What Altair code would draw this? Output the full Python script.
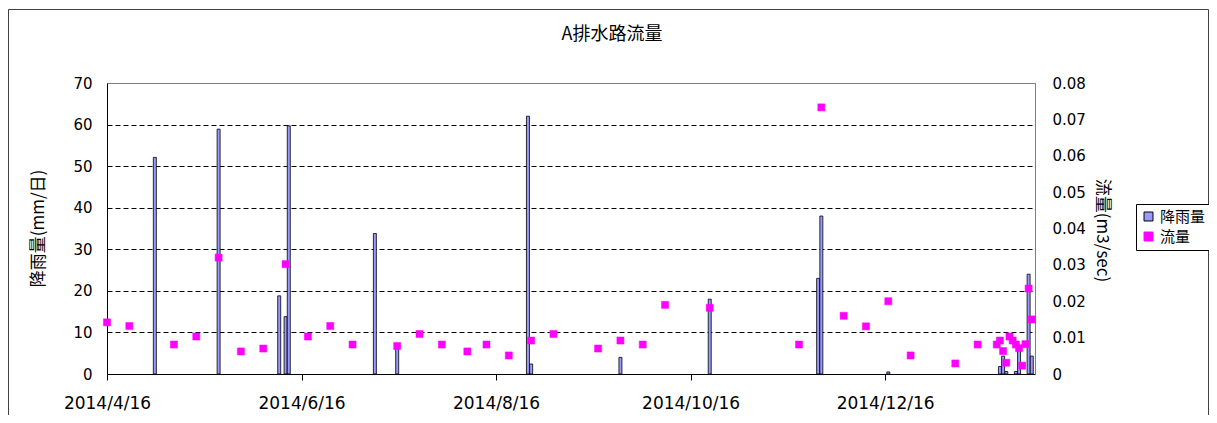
import altair as alt
import pandas as pd

# ---- data ----
rain_dates = ["2014-05-01", "2014-05-21", "2014-06-09", "2014-06-11", "2014-06-12",
              "2014-07-09", "2014-07-16", "2014-08-26", "2014-08-27", "2014-09-24",
              "2014-10-22", "2014-11-25", "2014-11-26", "2014-12-17", "2015-01-21",
              "2015-01-22", "2015-01-23", "2015-01-26", "2015-01-27", "2015-01-30",
              "2015-01-31"]
rain_mm = [52.1, 58.9, 18.8, 13.8, 59.7,
           33.8, 6.6, 62.0, 2.4, 4.0,
           18.0, 23.0, 38.0, 0.5, 1.8,
           4.3, 0.6, 0.6, 5.8, 24.0,
           4.3]

flow_dates = ["2014-04-16", "2014-04-23", "2014-05-07", "2014-05-14", "2014-05-21",
              "2014-05-28", "2014-06-04", "2014-06-11", "2014-06-18", "2014-06-25",
              "2014-07-02", "2014-07-16", "2014-07-23", "2014-07-30", "2014-08-07",
              "2014-08-13", "2014-08-20", "2014-08-27", "2014-09-03", "2014-09-17",
              "2014-09-24", "2014-10-01", "2014-10-08", "2014-10-22", "2014-11-19",
              "2014-11-26", "2014-12-03", "2014-12-10", "2014-12-17", "2014-12-24",
              "2015-01-07", "2015-01-14", "2015-01-20", "2015-01-21", "2015-01-22",
              "2015-01-23", "2015-01-24", "2015-01-25", "2015-01-26", "2015-01-27",
              "2015-01-28", "2015-01-29", "2015-01-30", "2015-01-31"]
flow_m3s = [0.0142, 0.0132, 0.0081, 0.0103, 0.0320,
            0.0062, 0.0070, 0.0302, 0.0103, 0.0132,
            0.0081, 0.0077, 0.0110, 0.0081, 0.0062,
            0.0081, 0.0051, 0.0092, 0.0110, 0.0070,
            0.0092, 0.0081, 0.0190, 0.0182, 0.0081,
            0.0733, 0.0160, 0.0131, 0.0200, 0.0051,
            0.0029, 0.0081, 0.0081, 0.0092, 0.0063,
            0.0031, 0.0103, 0.0092, 0.0081, 0.0071,
            0.0023, 0.0082, 0.0235, 0.0150]

series_names = ["降雨量", "流量"]
x_tick_dates = [(2014, 4, 16), (2014, 6, 16), (2014, 8, 16), (2014, 10, 16), (2014, 12, 16)]
x_domain = [(2014, 4, 16), (2015, 2, 1)]
rain_ticks = [0, 10, 20, 30, 40, 50, 60, 70]
flow_ticks = [0, 0.01, 0.02, 0.03, 0.04, 0.05, 0.06, 0.07, 0.08]

FONT = "DejaVu Sans, Noto Sans CJK JP"
CJK = "Noto Sans CJK JP"

rain_df = pd.DataFrame({"date": rain_dates, "value": rain_mm, "series": series_names[0]})
flow_df = pd.DataFrame({"date": flow_dates, "value": flow_m3s, "series": series_names[1]})
frame_df = pd.DataFrame({"box": ["chart area"]})


def dt(t):
    return alt.DateTime(year=t[0], month=t[1], date=t[2], utc=True)


x_enc = alt.X(
    "date:T",
    scale=alt.Scale(type="utc", domain=[dt(t) for t in x_domain], padding=0, nice=False),
    axis=alt.Axis(
        values=[dt(t) for t in x_tick_dates],
        labelExpr="utcFormat(datum.value, '%Y/%-m/%-d')",
        title=None,
        grid=False,
        ticks=True,
        tickSize=6,
        tickColor="black",
        domainColor="black",
        labelFont=FONT,
        labelFontSize=17,
        labelColor="black",
        labelBaseline="middle",
        labelPadding=23,
        labelFlush=False,
        labelOverlap=False,
    ),
)

fill_scale = alt.Scale(domain=series_names, range=["#9999FF", "#FF00FF"])
stroke_scale = alt.Scale(domain=series_names, range=["#000000", "#FF00FF"])
legend = alt.Legend(
    title=None,
    orient="none",
    legendX=1029,
    legendY=121,
    strokeColor="black",
    padding=5,
    fillColor="white",
    symbolType="square",
    symbolSize=80,
    symbolStrokeWidth=1,
    labelFont=CJK,
    labelFontSize=15,
    labelColor="black",
    rowPadding=4,
    labelOffset=4,
)

bars = alt.Chart(rain_df).mark_bar(size=3, strokeWidth=0.8).encode(
    x=x_enc,
    y=alt.Y(
        "value:Q",
        scale=alt.Scale(domain=[0, 70], nice=False, zero=True),
        axis=alt.Axis(
            values=rain_ticks,
            title="降雨量(mm/日)",
            titleFont=CJK,
            titleFontSize=17,
            titleFontWeight="normal",
            titleColor="black",
            titleAngle=-90,
            titleBaseline="middle",
            titleAlign="center",
            titleX=-69,
            titleY=145,
            grid=True,
            gridColor="black",
            gridDash=[5, 3],
            gridWidth=1,
            gridOpacity={"condition": {"test": "datum.value >= 70 || datum.value <= 0", "value": 0}, "value": 1},
            ticks=False,
            tickSize=0,
            domainColor="black",
            labelFont=FONT,
            labelFontSize=15,
            labelColor="black",
            labelPadding=15,
        ),
    ),
    fill=alt.Fill("series:N", scale=fill_scale, legend=legend),
    stroke=alt.Stroke("series:N", scale=stroke_scale, legend=legend),
)

points = alt.Chart(flow_df).mark_point(shape="square", filled=True, size=50, opacity=1, strokeWidth=0.5).encode(
    x=x_enc,
    y=alt.Y(
        "value:Q",
        scale=alt.Scale(domain=[0, 0.08], nice=False, zero=True),
        axis=alt.Axis(
            orient="right",
            values=flow_ticks,
            labelExpr="datum.value == 0 ? '0' : format(datum.value, '.2f')",
            title="流量(m3/sec)",
            titleFont=CJK,
            titleFontSize=17,
            titleFontWeight="normal",
            titleColor="black",
            titleAngle=90,
            titleBaseline="middle",
            titleAlign="center",
            titleX=66,
            titleY=147,
            grid=False,
            ticks=False,
            tickSize=0,
            domainColor="#808080",
            labelFont=FONT,
            labelFontSize=15,
            labelColor="black",
            labelPadding=17,
        ),
    ),
    fill=alt.Fill("series:N", scale=fill_scale, legend=legend),
    stroke=alt.Stroke("series:N", scale=stroke_scale, legend=legend),
)

# outer chart-area border box of the original spreadsheet chart
frame = alt.Chart(frame_df).mark_rect(fillOpacity=0, stroke="#404040", strokeWidth=1).encode(
    x=alt.value(-98.5),
    x2=alt.value(1101.5),
    y=alt.value(-73.5),
    y2=alt.value(360),
)

chart = (
    alt.layer(frame, bars, points)
    .resolve_scale(y="independent")
    .properties(
        width=928,
        height=291,
        autosize=alt.AutoSizeParams(type="none"),
        padding={"left": 99, "top": 75, "right": 174, "bottom": 41},
        background="white",
        title=alt.TitleParams(
            text="A排水路流量",
            font=CJK,
            fontSize=18,
            fontWeight="normal",
            color="black",
            anchor="middle",
            frame="group",
            baseline="middle",
            dx=41,
            offset=-44,
        ),
    )
    .configure_view(stroke="#808080", strokeWidth=1)
)

chart.save("out.html", embed_options={"renderer": "svg", "actions": False})
